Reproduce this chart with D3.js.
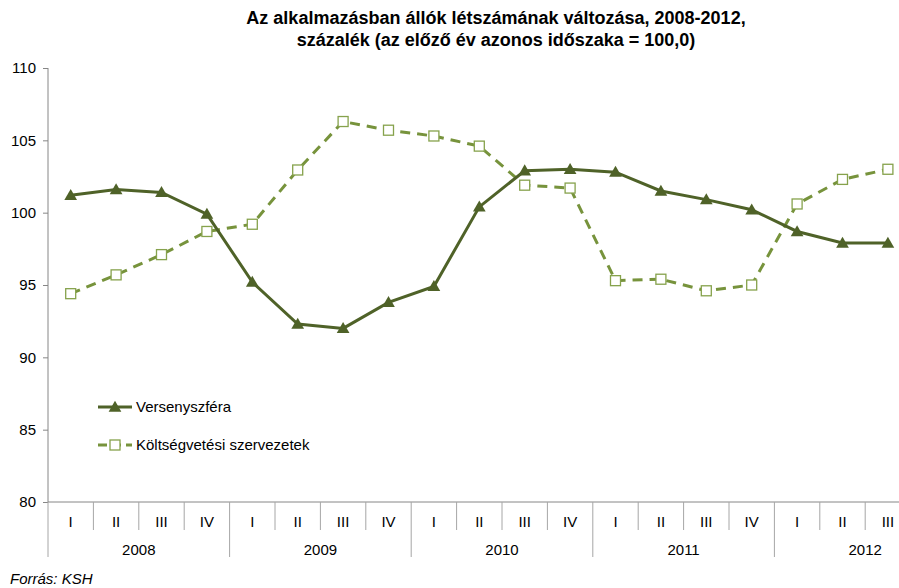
<!DOCTYPE html>
<html>
<head>
<meta charset="utf-8">
<script src="https://cdn.jsdelivr.net/npm/d3@7"></script>
<style>
  body { margin: 0; background: #fff; }
  svg { font-family: "Liberation Sans", Arial, sans-serif; }
</style>
</head>
<body>
<div id="chart"></div>
<script>
var years = ["2008", "2009", "2010", "2011", "2012"];
var quarters = ["I", "II", "III", "IV", "I", "II", "III", "IV", "I", "II", "III", "IV",
                "I", "II", "III", "IV", "I", "II", "III"];
var versenyszfera = [101.2, 101.6, 101.4, 99.9, 95.2, 92.3, 92.0, 93.8, 94.9, 100.4, 102.9, 103.0,
                     102.8, 101.5, 100.9, 100.2, 98.7, 97.9, 97.9];
var koltsegvetesi = [94.4, 95.7, 97.1, 98.7, 99.2, 102.95, 106.3, 105.7, 105.3, 104.6, 101.9, 101.7,
                     95.3, 95.4, 94.6, 95.0, 100.6, 102.3, 103.0];
var yTicks = [80, 85, 90, 95, 100, 105, 110];

var width = 899, height = 588;
var plotLeft = 48, plotTop = 68, plotBottom = 502;
var band = 45.4;

var svg = d3.select("#chart").append("svg")
    .attr("width", width)
    .attr("height", height);

// title
var title = svg.append("text")
    .attr("text-anchor", "middle")
    .style("font-weight", "bold")
    .style("font-size", "18px");
title.append("tspan").attr("x", 496).attr("y", 24)
    .text("Az alkalmazásban állók létszámának változása, 2008-2012,");
title.append("tspan").attr("x", 496).attr("y", 46)
    .text("százalék (az előző év azonos időszaka = 100,0)");

var idx = d3.range(quarters.length);
var x = d3.scaleBand()
    .domain(idx)
    .range([plotLeft, plotLeft + band * quarters.length]);
var y = d3.scaleLinear()
    .domain([80, 110])
    .range([plotBottom, plotTop]);

// y axis
var yAxis = d3.axisLeft(y).tickValues(yTicks).tickSize(5).tickPadding(7);
var gy = svg.append("g")
    .attr("transform", "translate(" + plotLeft + ",0)")
    .call(yAxis);
gy.select(".domain").attr("stroke", "#868686").attr("d", "M0," + plotTop + "V" + plotBottom);
gy.selectAll(".tick line").attr("stroke", "#868686");
gy.selectAll(".tick text").style("font-size", "15px").style("font-family", "Liberation Sans, Arial, sans-serif").attr("fill", "#000");

// x axis
svg.append("line")
    .attr("x1", plotLeft).attr("x2", width)
    .attr("y1", plotBottom).attr("y2", plotBottom)
    .attr("stroke", "#868686");

svg.selectAll(".qsep").data(d3.range(quarters.length + 1)).enter()
    .append("line")
    .attr("class", "qsep")
    .attr("x1", function(d) { return plotLeft + d * band; })
    .attr("x2", function(d) { return plotLeft + d * band; })
    .attr("y1", plotBottom)
    .attr("y2", function(d) { return d % 4 == 0 ? 557 : 530; })
    .attr("stroke", "#a6a6a6");

svg.selectAll(".qlab").data(idx).enter()
    .append("text")
    .attr("class", "qlab")
    .attr("x", function(d) { return x(d) + x.bandwidth() / 2; })
    .attr("y", 527)
    .attr("text-anchor", "middle")
    .attr("fill", "#000")
    .style("font-size", "15px")
    .text(function(d) { return quarters[d]; });

svg.selectAll(".ylab").data(years).enter()
    .append("text")
    .attr("class", "ylab")
    .attr("x", function(d, i) { return plotLeft + (i * 4 + 2) * band; })
    .attr("y", 555)
    .attr("text-anchor", "middle")
    .attr("fill", "#000")
    .style("font-size", "15px")
    .text(function(d) { return d; });

var line = d3.line()
    .x(function(d, i) { return x(i) + x.bandwidth() / 2; })
    .y(function(d) { return y(d); });

var dark = "#4f6228", light = "#77933c";

svg.append("path")
    .datum(koltsegvetesi)
    .attr("d", line)
    .attr("fill", "none")
    .attr("stroke", light)
    .attr("stroke-width", 3)
    .attr("stroke-dasharray", "10,7");

svg.append("path")
    .datum(versenyszfera)
    .attr("d", line)
    .attr("fill", "none")
    .attr("stroke", dark)
    .attr("stroke-width", 3);

var tri = d3.symbol().type(d3.symbolTriangle).size(70);

svg.selectAll(".sq").data(koltsegvetesi).enter()
    .append("rect")
    .attr("class", "sq")
    .attr("x", function(d, i) { return x(i) + x.bandwidth() / 2 - 5; })
    .attr("y", function(d) { return y(d) - 5; })
    .attr("width", 10).attr("height", 10)
    .attr("fill", "#fff")
    .attr("stroke", "#86a24c")
    .attr("stroke-width", 1.3);

svg.selectAll(".tri").data(versenyszfera).enter()
    .append("path")
    .attr("class", "tri")
    .attr("d", tri)
    .attr("transform", function(d, i) {
      return "translate(" + (x(i) + x.bandwidth() / 2) + "," + (y(d) + 1) + ")";
    })
    .attr("fill", dark);

// legend
var lg = svg.append("g");
lg.append("line").attr("x1", 98).attr("x2", 132).attr("y1", 407).attr("y2", 407)
    .attr("stroke", dark).attr("stroke-width", 3);
lg.append("path").attr("d", tri)
    .attr("transform", "translate(115,408)").attr("fill", dark);
lg.append("text").attr("x", 136).attr("y", 412)
    .style("font-size", "15px").text("Versenyszféra");

lg.append("line").attr("x1", 98).attr("x2", 132).attr("y1", 445).attr("y2", 445)
    .attr("stroke", light).attr("stroke-width", 3).attr("stroke-dasharray", "9,5");
lg.append("rect").attr("x", 110).attr("y", 440).attr("width", 10).attr("height", 10)
    .attr("fill", "#fff").attr("stroke", "#86a24c").attr("stroke-width", 1.3);
lg.append("text").attr("x", 136).attr("y", 450)
    .style("font-size", "15px").text("Költségvetési szervezetek");

svg.append("text")
    .attr("x", 10).attr("y", 584)
    .style("font-size", "15px")
    .style("font-style", "italic")
    .text("Forrás: KSH");
</script>
</body>
</html>
